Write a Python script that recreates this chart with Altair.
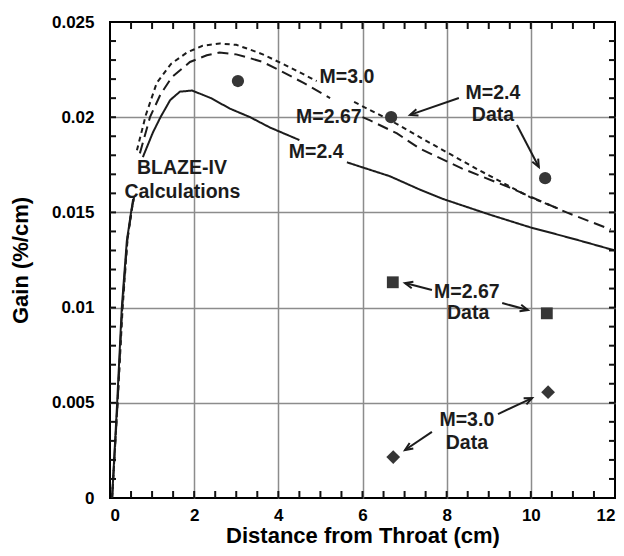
import math
import altair as alt
import pandas as pd

W, H = 505, 476
X_MAX, Y_MAX = 12.0, 0.025

# ---------------- BLAZE-IV calculated curves (segments split at labels) -----
m24_x = [0.05, 0.17, 0.28, 0.40, 0.50, 0.55,
         0.78, 1.02, 1.20, 1.43, 1.66, 1.95, 2.20, 2.40, 2.85, 3.33, 3.80, 4.50,
         5.63, 6.65, 7.36, 7.92, 9.00, 9.98, 11.0, 12.0]
m24_y = [0.0, 0.0050, 0.0100, 0.0135, 0.0150, 0.0157,
         0.0179, 0.0192, 0.0200, 0.0209, 0.02134, 0.0214, 0.02118, 0.0210, 0.02045, 0.0200, 0.01946, 0.0188,
         0.01763, 0.0169, 0.0162, 0.0157, 0.0149, 0.01422, 0.01362, 0.0130]
m24_seg = [0] * 6 + [1] * 12 + [2] * 8

m267_x = [0.05, 0.18, 0.29, 0.41, 0.52, 0.57,
          0.71, 0.95, 1.20, 1.47, 1.90, 2.30, 2.60, 3.00, 3.33, 3.63, 4.04, 4.60, 5.23,
          6.00, 6.18, 6.82, 7.36, 8.37, 9.50, 10.85, 11.9]
m267_y = [0.0, 0.0050, 0.0100, 0.0135, 0.0152, 0.0158,
          0.0181, 0.0200, 0.0212, 0.0221, 0.0229, 0.02325, 0.0234, 0.0233, 0.0231, 0.0229, 0.02245, 0.0218, 0.0210,
          0.0200, 0.01983, 0.01915, 0.01835, 0.0173, 0.0163, 0.0150, 0.0141]
m267_seg = [0] * 6 + [1] * 13 + [2] * 8

m30_x = [0.05, 0.18, 0.30, 0.42, 0.53, 0.58,
         0.64, 0.85, 1.11, 1.45, 1.83, 2.20, 2.61, 3.00, 3.33, 3.63, 4.20, 4.91,
         5.80, 6.65, 7.40, 8.70, 9.98, 10.65]
m30_y = [0.0, 0.0050, 0.0100, 0.0137, 0.0153, 0.0159,
         0.01826, 0.0201, 0.0218, 0.0228, 0.0234, 0.02375, 0.02387, 0.0238, 0.02355, 0.0233, 0.0227, 0.0219,
         0.0208, 0.01985, 0.0189, 0.0173, 0.0158, 0.0152]
m30_seg = [0] * 6 + [1] * 12 + [2] * 6

series_names = ["M=2.4", "M=2.67", "M=3.0"]

# ---------------- measured data ----------------
circ_x = [3.04, 6.68, 10.34]
circ_y = [0.0219, 0.0200, 0.0168]
sq_x = [6.72, 10.38]
sq_y = [0.01133, 0.0097]
dia_x = [6.73, 10.41]
dia_y = [0.00215, 0.00556]

# ---------------- annotations ----------------
lab_text = ["BLAZE-IV", "Calculations", "M=3.0", "M=2.67", "M=2.4",
            "M=2.4", "Data", "M=2.67", "Data", "M=3.0", "Data"]
lab_x = [1.71, 1.72, 5.63, 5.20, 4.90, 9.10, 9.10, 8.48, 8.51, 8.48, 8.48]
lab_y = [0.01733, 0.01607, 0.02211, 0.02001, 0.01817,
         0.02127, 0.02012, 0.01082, 0.00972, 0.0041, 0.00289]

arr_x0 = [8.29, 9.67, 7.65, 9.32, 9.22, 7.65]
arr_y0 = [0.02101, 0.01959, 0.01092, 0.01024, 0.00441, 0.00347]
arr_x1 = [7.13, 10.19, 7.01, 9.93, 10.03, 7.01]
arr_y1 = [0.02012, 0.01738, 0.01129, 0.00987, 0.00525, 0.00252]

x_major = [0, 2, 4, 6, 8, 10, 12]
x_grid = [2, 4, 6, 8, 10]
x_minor = [i * 0.5 for i in range(1, 24)]
y_major = [0, 0.005, 0.01, 0.015, 0.02, 0.025]
y_grid = [0.005, 0.01, 0.015, 0.02]
y_minor = [round(i * 0.001, 3) for i in range(1, 25)]

# ---------------- frames ----------------
def curve_frame(name, xs, ys, segs):
    return pd.DataFrame({"x": xs, "y": ys, "series": name,
                         "seg": [f"{name}-{s}" for s in segs]})

curves = pd.concat([
    curve_frame("M=2.4", m24_x, m24_y, m24_seg),
    curve_frame("M=2.67", m267_x, m267_y, m267_seg),
    curve_frame("M=3.0", m30_x, m30_y, m30_seg),
], ignore_index=True)

circles = pd.DataFrame({"x": circ_x, "y": circ_y})
squares = pd.DataFrame({"x": sq_x, "y": sq_y})
diamonds = pd.DataFrame({"x": dia_x, "y": dia_y})
labels = pd.DataFrame({"x": lab_x, "y": lab_y, "t": lab_text})

sx, sy = W / X_MAX, H / Y_MAX
arrows = pd.DataFrame({"x": arr_x0, "y": arr_y0, "x2": arr_x1, "y2": arr_y1})
arrows["angle"] = [
    math.degrees(math.atan2((b - a) * sx, (d - c) * sy)) % 360
    for a, b, c, d in zip(arr_x0, arr_x1, arr_y0, arr_y1)
]

# inward minor ticks on all four edges, tick lengths 7 px / 6 px in data units
TX = 7 / sy
TY = 6 / sx
tick_rows = []
for v in x_minor:
    tick_rows.append({"x": v, "x2": v, "y": 0.0, "y2": TX})
    tick_rows.append({"x": v, "x2": v, "y": Y_MAX - TX, "y2": Y_MAX})
for v in y_minor:
    tick_rows.append({"x": 0.0, "x2": TY, "y": v, "y2": v})
    tick_rows.append({"x": X_MAX - TY, "x2": X_MAX, "y": v, "y2": v})
minor_ticks = pd.DataFrame(tick_rows)

xs = alt.Scale(domain=[0, X_MAX], nice=False, zero=False)
ys = alt.Scale(domain=[0, Y_MAX], nice=False, zero=False)
INK = "#1c1c1c"
MARK = "#363636"
FONT = "Liberation Sans"

lines = alt.Chart(curves).mark_line(color=INK, strokeWidth=2).encode(
    x=alt.X("x:Q", scale=xs, title="Distance from Throat (cm)",
            axis=alt.Axis(orient="bottom", values=x_major, format="d", grid=False,
                          ticks=False, tickSize=0, domain=False, labelPadding=9,
                          titleBaseline="alphabetic", titleY=44)),
    y=alt.Y("y:Q", scale=ys, title="Gain (%/cm)",
            axis=alt.Axis(orient="left", values=y_major, format="~g", grid=False,
                          ticks=False, tickSize=0, domain=False, labelPadding=16,
                          titlePadding=19)),
    strokeDash=alt.StrokeDash("series:N",
                              scale=alt.Scale(domain=series_names,
                                              range=[[1, 0], [11, 6], [5, 4]]),
                              legend=None),
    detail="seg:N",
)

pts_d = alt.Chart(diamonds).mark_point(shape="diamond", filled=True, color=MARK,
                                       size=190, opacity=1).encode(
    x=alt.X("x:Q", scale=xs, title=None,
            axis=alt.Axis(orient="bottom", values=x_grid, labels=False, ticks=False,
                          domain=False, grid=True, gridColor="#8c8c8c", gridWidth=1.5)),
    y=alt.Y("y:Q", scale=ys, title=None,
            axis=alt.Axis(orient="left", values=y_grid, labels=False, ticks=False,
                          domain=False, grid=True, gridColor="#8c8c8c", gridWidth=1.5)),
)

pts_c = alt.Chart(circles).mark_point(shape="circle", filled=True, color=MARK,
                                      size=150, opacity=1).encode(
    x=alt.X("x:Q", scale=xs, axis=None),
    y=alt.Y("y:Q", scale=ys, axis=None),
)

pts_s = alt.Chart(squares).mark_point(shape="square", filled=True, color=MARK,
                                      size=140, opacity=1).encode(
    x=alt.X("x:Q", scale=xs, axis=None),
    y=alt.Y("y:Q", scale=ys, axis=None),
)

ticks = alt.Chart(minor_ticks).mark_rule(color="#111111", strokeWidth=2,
                                         opacity=1).encode(
    x=alt.X("x:Q", scale=xs, axis=None),
    y=alt.Y("y:Q", scale=ys, axis=None),
    x2="x2:Q",
    y2="y2:Q",
)

texts = alt.Chart(labels).mark_text(font=FONT, fontWeight="bold", fontSize=19.5,
                                    color=INK, align="center",
                                    baseline="middle").encode(
    x=alt.X("x:Q", scale=xs, axis=None),
    y=alt.Y("y:Q", scale=ys, axis=None),
    text="t:N",
)

shafts = alt.Chart(arrows).mark_rule(color=INK, strokeWidth=2).encode(
    x=alt.X("x:Q", scale=xs, axis=None),
    y=alt.Y("y:Q", scale=ys, axis=None),
    x2="x2:Q",
    y2="y2:Q",
)

heads = alt.Chart(arrows).mark_point(shape="M-0.55,1.3L0,0L0.55,1.3",
                                     filled=False, color=INK, strokeWidth=2,
                                     size=144, opacity=1).encode(
    x=alt.X("x2:Q", scale=xs, axis=None),
    y=alt.Y("y2:Q", scale=ys, axis=None),
    angle=alt.Angle("angle:Q", scale=None),
)

chart = alt.layer(pts_d, lines, pts_c, pts_s, texts, shafts, heads,
                  ticks).resolve_axis(
    x="independent", y="independent"
).properties(
    width=W, height=H,
    autosize=alt.AutoSizeParams(type="none"),
    padding={"left": 102, "top": 14, "right": 1, "bottom": 50},
).configure_view(
    stroke="black", strokeWidth=2
).configure_axis(
    labelFont=FONT, labelFontWeight="bold", labelFontSize=17, labelColor="black",
    titleFont=FONT, titleFontWeight="bold", titleFontSize=22, titleColor="black",
)

chart.save("out.html", embed_options={"renderer": "svg", "actions": False})
